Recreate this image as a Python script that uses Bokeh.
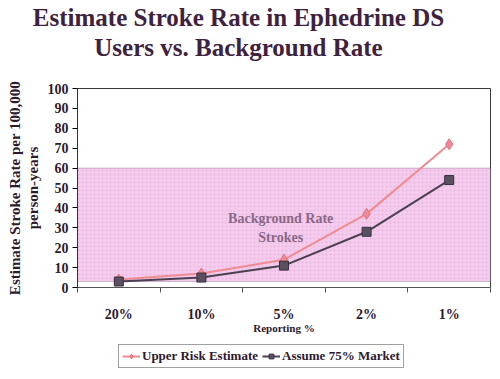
from bokeh.plotting import figure
from bokeh.layouts import column
from bokeh.models import (ColumnDataSource, FixedTicker, Range1d, Label, Legend, LegendItem, BoxAnnotation)
from bokeh.embed import file_html
from bokeh.resources import INLINE

categories = ["20%", "10%", "5%", "2%", "1%"]
upper_risk = [4, 7, 14, 37, 72]
assume_75 = [3, 5, 11, 28, 54]
background_low = 3
background_high = 60
series_names = ["Upper Risk Estimate", "Assume 75% Market"]
title_lines = ["Estimate Stroke Rate in Ephedrine DS", "Users vs. Background Rate"]

xs = [i + 0.5 for i in range(len(categories))]
src = ColumnDataSource(dict(x=xs, upper=upper_risk, assume=assume_75))

SERIF = "Liberation Serif"
DARK = "#2e1a2e"
UP_LINE, UP_FILL, UP_EDGE = "#ee8c92", "#ee8a96", "#e07080"
AS_LINE, AS_FILL, AS_EDGE = "#4a4050", "#5a5060", "#3a3040"
W = 492


def strip(h):
    f = figure(width=W, height=h, output_backend="svg", toolbar_location=None,
               x_range=Range1d(0, W), y_range=Range1d(0, h), min_border=0)
    f.axis.visible = False
    f.grid.visible = False
    f.outline_line_color = None
    f.background_fill_color = "white"
    f.border_fill_color = "white"
    f.frame_align = False
    return f


# ---- title strip
TH = 72
tt = strip(TH)
for txt, base in zip(title_lines, [17, 47]):
    tt.add_layout(Label(x=238, y=TH - base, text=txt, text_align="center", text_baseline="alphabetic",
                        text_font=SERIF, text_font_style="bold", text_font_size="25px",
                        text_color="#3e2240"))

# ---- main plot
PH = 265
p = figure(width=W, height=PH, output_backend="svg", toolbar_location=None,
           x_range=Range1d(0, len(categories)), y_range=Range1d(0, 100),
           min_border_left=77, min_border_right=2, min_border_top=16, min_border_bottom=50)
p.background_fill_color = "white"
p.border_fill_color = "white"
p.outline_line_color = "#3a3a3a"
p.outline_line_width = 1
p.grid.visible = False

p.add_layout(BoxAnnotation(bottom=background_low, top=background_high, fill_color="#f4cbee",
                           fill_alpha=1.0, line_color="#5a4a5a", line_width=1,
                           hatch_pattern="dot", hatch_color="#b06080", hatch_alpha=0.18,
                           hatch_scale=4, level="underlay"))

p.line("x", "upper", source=src, line_color=UP_LINE, line_width=2)
p.scatter("x", "upper", source=src, marker="diamond", size=11, fill_color=UP_FILL, line_color=UP_EDGE)
p.line("x", "assume", source=src, line_color=AS_LINE, line_width=2)
p.scatter("x", "assume", source=src, marker="square", size=9, fill_color=AS_FILL, line_color=AS_EDGE)

xa = p.xaxis[0]
xa.ticker = FixedTicker(ticks=xs, minor_ticks=list(range(len(categories) + 1)))
xa.major_label_overrides = {x: c for x, c in zip(xs, categories)}
xa.major_tick_out = 0
xa.major_tick_in = 0
xa.minor_tick_out = 5
xa.minor_tick_in = 0
xa.axis_line_color = "#555555"
xa.minor_tick_line_color = "#555555"
xa.major_label_text_font = SERIF
xa.major_label_text_font_style = "bold"
xa.major_label_text_font_size = "14px"
xa.major_label_text_color = DARK
xa.major_label_standoff = 14
xa.axis_label = "Reporting %"
xa.axis_label_text_font = SERIF
xa.axis_label_text_font_style = "bold"
xa.axis_label_text_font_size = "11px"
xa.axis_label_text_color = DARK
xa.axis_label_standoff = -3

ya = p.yaxis[0]
ya.ticker = FixedTicker(ticks=list(range(0, 101, 10)))
ya.major_tick_out = 5
ya.major_tick_in = 0
ya.minor_tick_out = 0
ya.minor_tick_in = 0
ya.axis_line_color = "#333333"
ya.major_label_text_font = SERIF
ya.major_label_text_font_style = "bold"
ya.major_label_text_font_size = "14px"
ya.major_label_text_color = DARK
ya.major_label_standoff = 4
ya.axis_label = "Estimate Stroke Rate per 100,000\nperson-years"
ya.axis_label_text_font = SERIF
ya.axis_label_text_font_style = "bold"
ya.axis_label_text_font_size = "15px"
ya.axis_label_text_line_height = 1.07
ya.axis_label_text_color = DARK
ya.axis_label_standoff = 4

p.add_layout(Label(x=2.46, y=34.7, text="Background Rate", text_align="center", text_baseline="middle",
                   text_font=SERIF, text_font_style="bold", text_font_size="14px", text_color="#8a6888"))
p.add_layout(Label(x=2.46, y=25.2, text="Strokes", text_align="center", text_baseline="middle",
                   text_font=SERIF, text_font_style="bold", text_font_size="14px", text_color="#8a6888"))

# ---- legend strip (its glyphs reuse the series data, which lies outside this strip's range)
LH = 34
lg = strip(LH)
lg.y_range = Range1d(-1, 0)
l1 = lg.line("x", "upper", source=src, line_color=UP_LINE, line_width=2)
m1 = lg.scatter("x", "upper", source=src, marker="diamond", size=11, fill_color=UP_FILL, line_color=UP_EDGE)
l2 = lg.line("x", "assume", source=src, line_color=AS_LINE, line_width=2)
m2 = lg.scatter("x", "assume", source=src, marker="square", size=9, fill_color=AS_FILL, line_color=AS_EDGE)
legend = Legend(items=[LegendItem(label=series_names[0], renderers=[l1, m1]),
                       LegendItem(label=series_names[1], renderers=[l2, m2])],
                orientation="horizontal", location=(118, 3),
                label_text_font=SERIF, label_text_font_style="bold", label_text_font_size="13px",
                label_text_color=DARK, border_line_color="#444444", border_line_width=1,
                padding=3, spacing=4, glyph_width=18, glyph_height=12, label_standoff=2,
                label_height=14, margin=0, background_fill_color="white")
lg.add_layout(legend, "center")

open("out.html", "w").write(file_html(column(tt, p, lg, spacing=0), INLINE))
